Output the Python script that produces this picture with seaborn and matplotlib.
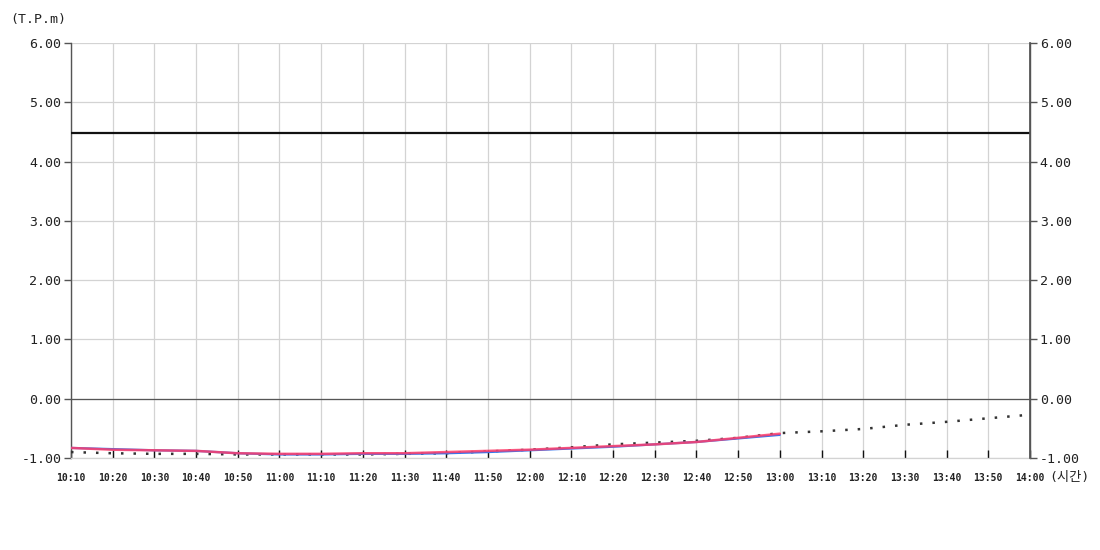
import matplotlib
matplotlib.use("Agg")
import matplotlib.pyplot as plt
import seaborn as sns
import numpy as np
import pandas as pd

times = ["10:10", "10:20", "10:30", "10:40", "10:50", "11:00", "11:10", "11:20",
         "11:30", "11:40", "11:50", "12:00", "12:10", "12:20", "12:30", "12:40",
         "12:50", "13:00", "13:10", "13:20", "13:30", "13:40", "13:50", "14:00"]

observed_red = [-0.83, -0.86, -0.87, -0.88, -0.92, -0.93, -0.93, -0.92, -0.92,
                -0.90, -0.88, -0.86, -0.83, -0.80, -0.77, -0.73, -0.66, -0.59]
observed_blue = [-0.83, -0.85, -0.87, -0.88, -0.92, -0.94, -0.94, -0.93, -0.93,
                 -0.92, -0.90, -0.87, -0.84, -0.81, -0.77, -0.73, -0.67, -0.61]
predicted = [-0.90, -0.92, -0.93, -0.93, -0.94, -0.94, -0.94, -0.94, -0.93,
             -0.92, -0.89, -0.86, -0.82, -0.77, -0.74, -0.71, -0.66, -0.58,
             -0.55, -0.51, -0.44, -0.39, -0.33, -0.27]
warning_level = 4.48

y_ticks = [-1.0, 0.0, 1.0, 2.0, 3.0, 4.0, 5.0, 6.0]

sns.set_theme(style="white")
plt.rcParams['font.family'] = ['DejaVu Sans Mono', 'Noto Sans CJK KR']

fig = plt.figure(figsize=(11, 5.5), dpi=100)
ax = fig.add_axes([71/1100, 1 - 458/550, (1030-71)/1100, (458-43)/550])

idx = np.arange(len(times))
df_pred = pd.DataFrame({"t": idx, "v": predicted})
df_blue = pd.DataFrame({"t": idx[:len(observed_blue)], "v": observed_blue})
df_red = pd.DataFrame({"t": idx[:len(observed_red)], "v": observed_red})

# grid
for t in idx:
    ax.axvline(t, color="#d3d3d3", lw=0.9, zorder=0)
for yv in y_ticks:
    ax.axhline(yv, color="#d3d3d3", lw=0.9, zorder=0)
ax.axhline(0.0, color="#555555", lw=0.9, zorder=1)

sns.lineplot(data=df_pred, x="t", y="v", ax=ax, color="#333333", lw=1.8,
             linestyle=(0, (1, 4)), zorder=3)
sns.lineplot(data=df_blue, x="t", y="v", ax=ax, color="#3377ee", lw=1.6, zorder=4)
sns.lineplot(data=df_red, x="t", y="v", ax=ax, color="#ff3d6a", lw=1.8,
             alpha=0.85, zorder=5)
ax.axhline(warning_level, color="#111111", lw=1.6, zorder=6)

ax.set_xlim(0, len(times) - 1)
ax.set_ylim(-1.0, 6.0)
ax.set_xlabel("")
ax.set_ylabel("")
ax.set_xticks(idx)
ax.set_xticklabels(times, fontsize=7, fontweight="bold", color="#222222")
ax.set_yticks(y_ticks)
ax.set_yticklabels([f"{v:.2f}" for v in y_ticks], fontsize=9.5, color="#222222")
ax.tick_params(axis="x", direction="in", length=6, width=1, color="#111111", pad=11,
               bottom=True)
ax.tick_params(axis="y", direction="out", length=5, width=1, color="#555555", pad=2,
               left=True)

ax.spines["top"].set_visible(False)
ax.spines["bottom"].set_color("#d3d3d3")
ax.spines["bottom"].set_linewidth(0.9)
ax.spines["left"].set_color("#555555")
ax.spines["right"].set_color("#555555")
ax.spines["left"].set_linewidth(1)
ax.spines["right"].set_linewidth(1)

ax2 = ax.twinx()
ax2.set_ylim(-1.0, 6.0)
ax2.set_yticks(y_ticks)
ax2.set_yticklabels([f"{v:.2f}" for v in y_ticks], fontsize=9.5, color="#222222")
ax2.tick_params(axis="y", direction="out", length=5, width=1, color="#555555", pad=2,
                right=True)
for s in ["top", "bottom", "left"]:
    ax2.spines[s].set_visible(False)
ax2.spines["right"].set_color("#555555")
ax2.grid(False)

fig.text(10/1100, 1 - 20/550, "(T.P.m)", fontsize=9.5, color="#222222",
         ha="left", va="center")
fig.text(1049/1100, 1 - 477/550, "(시간)", fontsize=9.5, color="#222222",
         ha="left", va="center")

fig.savefig("out.png", dpi=100)
